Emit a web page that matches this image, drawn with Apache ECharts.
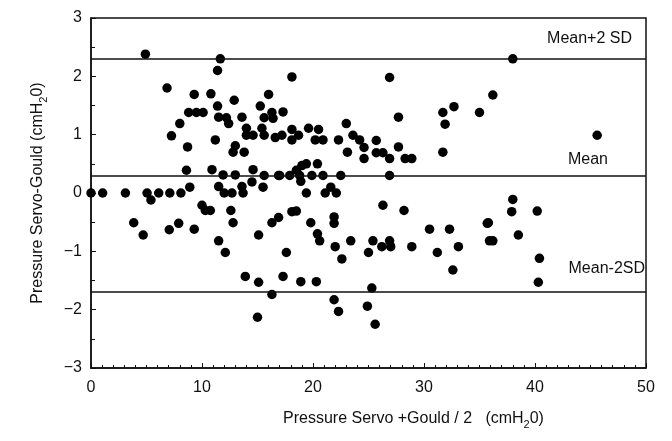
<!DOCTYPE html>
<html>
<head>
<meta charset="utf-8">
<script src="https://cdn.jsdelivr.net/npm/echarts@6/dist/echarts.min.js"></script>
<style>
  html, body { margin: 0; padding: 0; background: #fff; }
  #chart { width: 672px; height: 441px; }
</style>
</head>
<body>
<div id="chart"></div>
<script>
// mittelwert (servo+gould)/2
var meanX = [
  0, 1.05, 3.1, 3.85, 4.7, 4.9, 5.05, 5.4, 6.1, 6.85, 7.05, 7.1, 7.25, 7.9, 8.0, 8.1,
  8.6, 8.7, 8.8, 8.9, 9.3, 9.3, 9.5, 10.0, 10.1, 10.3, 10.75, 10.8, 10.9, 11.2, 11.4,
  11.4, 11.5, 11.5, 11.5, 11.65, 11.9, 12.0, 12.1, 12.2, 12.4, 12.6, 12.7, 12.8, 12.8,
  12.9, 13.0, 13.0, 13.6, 13.6, 13.7, 13.8, 13.9, 14.0, 14.0, 14.5, 14.6, 14.6, 15.0,
  15.1, 15.1, 15.25, 15.4, 15.5, 15.6, 15.6, 15.6, 16.0, 16.3, 16.3, 16.3, 16.4, 16.6,
  16.9, 16.9, 17.0, 17.2, 17.3, 17.3, 17.6, 17.9, 18.1, 18.1, 18.1, 18.1, 18.5, 18.5,
  18.7, 18.8, 18.9, 18.9, 19.0, 19.4, 19.4, 19.6, 19.8, 19.9, 20.2, 20.3, 20.4, 20.4,
  20.5, 20.6, 20.9, 20.9, 21.1, 21.6, 21.9, 21.9, 21.9, 22.0, 22.1, 22.3, 22.3, 22.5,
  22.6, 23.0, 23.1, 23.4, 23.6, 24.2, 24.6, 24.6, 24.9, 25.0, 25.3, 25.4, 25.6, 25.7,
  25.7, 26.2, 26.3, 26.3, 26.9, 26.9, 26.9, 26.9, 27.0, 27.7, 27.7, 28.2, 28.3, 28.9,
  28.9, 30.5, 31.2, 31.7, 31.7, 31.9, 32.3, 32.6, 32.7, 33.1, 35.0, 35.7, 35.9, 35.8,
  36.2, 36.2, 37.9, 38.0, 38.0, 38.5, 40.2, 40.3, 40.4, 45.6
];
// differenz servo-gould
var diffY = [
  0, 0, 0, -0.51, -0.72, 2.38, 0, -0.12, 0, 1.8, -0.63, 0, 0.98, -0.52, 1.19, 0,
  0.39, 0.79, 1.38, 0.1, 1.69, -0.62, 1.38, -0.21, 1.38, -0.3, -0.3, 1.7, 0.4, 0.91, 2.1,
  1.49, 1.3, 0.11, -0.82, 2.3, 0.31, 0, -1.02, 1.29, 1.19, -0.3, 0, 0.7, -0.51,
  1.59, 0.81, 0.31, 1.3, 0.11, 0, 0.7, -1.43, 1.11, 0.99, 0.19, 0.99, 0.4, -2.13,
  -0.72, -1.53, 1.49, 1.11, 0.1, 1.29, 0.99, 0.3, 1.69, 1.38, -0.51, -1.74, 1.28, 0.95,
  0.3, -0.42, 0.3, 0.99, 1.39, -1.43, -1.02, 0.3, 1.99, 1.09, 0.91, -0.32, -0.31, 0.39,
  0.99, 0.3, 0.2, -1.52, 0.47, 0.5, 0, 1.11, -0.51, 0.3, 0.91, -1.52, 0.5, -0.7,
  1.09, -0.82, 0.91, 0.3, 0, 0.1, -0.41, -0.52, -1.83, -0.92, 0, 0.91, -2.03, 0.3,
  -1.13, 1.19, 0.7, -0.82, 0.99, 0.91, 0.78, 0.59, -1.94, -1.02, -1.63, -0.82, -2.25, 0.9,
  0.69, -0.92, 0.69, -0.21, 1.98, 0.59, 0.3, -0.82, -0.92, 1.3, 0.79, -0.3, 0.59, 0.59,
  -0.92, -0.62, -1.02, 1.38, 0.7, 1.18, -0.62, -1.32, 1.48, -0.92, 1.38, -0.52, -0.82, -0.51,
  1.68, -0.82, -0.32, 2.3, -0.11, -0.72, -0.31, -1.53, -1.12, 0.99
];
var xTicks = [0, 10, 20, 30, 40, 50];
var yTicks = [-3, -2, -1, 0, 1, 2, 3];
// mean und grenzen
var lineNames = ['Mean+2 SD', 'Mean', 'Mean-2SD'];
var lineValues = [2.3, 0.3, -1.7];

var punkte = [];
for (var i = 0; i < meanX.length; i++) {
  punkte.push([meanX[i], diffY[i]]);
}

var schrift = '"Liberation Sans", Arial, sans-serif';
var myChart = echarts.init(document.getElementById('chart'));

var option = {
  animation: false,
  backgroundColor: '#fff',
  textStyle: { fontFamily: schrift, color: '#111' },
  grid: {
    left: 91, right: 26, top: 18, bottom: 73,
    show: true, borderColor: '#111', borderWidth: 1.5
  },
  xAxis: {
    type: 'value',
    min: xTicks[0], max: xTicks[xTicks.length - 1], interval: 10,
    name: '{n|Pressure Servo +Gould / 2   (cmH}{s|2}{n|0)}',
    nameLocation: 'middle',
    nameGap: 40,
    nameTextStyle: {
      padding: [0, 0, 0, 90],
      rich: {
        n: { fontSize: 16, fontFamily: schrift, color: '#111', lineHeight: 22, verticalAlign: 'middle' },
        s: { fontSize: 11, fontFamily: schrift, color: '#111', lineHeight: 22, verticalAlign: 'bottom', padding: [6, 0, 0, 0] }
      }
    },
    axisLine: { show: true, onZero: false, lineStyle: { color: '#111', width: 1.5 } },
    axisTick: { inside: true, length: 5, lineStyle: { color: '#111' } },
    minorTick: { show: true, splitNumber: 10, length: 3, lineStyle: { color: '#111' } },
    axisLabel: { fontSize: 16, color: '#111', margin: 12, fontFamily: schrift },
    splitLine: { show: false }
  },
  yAxis: {
    type: 'value',
    min: yTicks[0], max: yTicks[yTicks.length - 1], interval: 1,
    name: '{n|Pressure Servo-Gould (cmH}{s|2}{n|0)}',
    nameLocation: 'middle',
    nameRotate: 90,
    nameGap: 42,
    nameTextStyle: {
      rich: {
        n: { fontSize: 16, fontFamily: schrift, color: '#111', lineHeight: 22, verticalAlign: 'middle' },
        s: { fontSize: 11, fontFamily: schrift, color: '#111', lineHeight: 22, verticalAlign: 'bottom', padding: [6, 0, 0, 0] }
      }
    },
    axisLine: { show: true, onZero: false, lineStyle: { color: '#111', width: 1.5 } },
    axisTick: { inside: true, length: 5, lineStyle: { color: '#111' } },
    minorTick: { show: true, splitNumber: 2, length: 4, lineStyle: { color: '#111' } },
    axisLabel: {
      fontSize: 16, color: '#111', margin: 9, fontFamily: schrift,
      formatter: function (v) { return String(v).replace('-', '\u2212'); }
    },
    splitLine: { show: false }
  },
  series: [{
    type: 'scatter',
    data: punkte,
    symbolSize: 9.5,
    itemStyle: { color: '#000', opacity: 1 },
    markLine: {
      silent: true,
      symbol: ['none', 'none'],
      lineStyle: { color: '#111', width: 1.5, type: 'solid' },
      label: { fontSize: 16, color: '#111', fontFamily: schrift },
      data: [
        { yAxis: lineValues[0], label: { formatter: lineNames[0], position: 'insideEndTop', distance: [14, 12] } },
        { yAxis: lineValues[1], label: { formatter: lineNames[1], position: 'insideEndTop', distance: [38, 8] } },
        { yAxis: lineValues[2], label: { formatter: lineNames[2], position: 'insideEndTop', distance: [1, 16] } }
      ]
    }
  }]
};

myChart.setOption(option);
</script>
</body>
</html>
